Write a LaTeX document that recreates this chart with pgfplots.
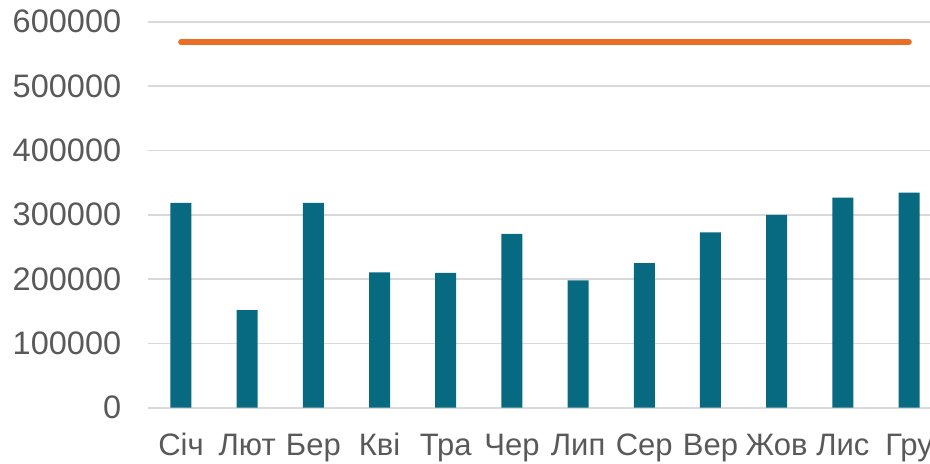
\documentclass[border=0pt]{standalone}
\usepackage{fontspec}
\setmainfont{Liberation Sans}
\usepackage{pgfplots}
\pgfplotsset{compat=1.18}
\definecolor{barteal}{RGB}{7,106,128}
\definecolor{lineorange}{RGB}{235,110,38}
\definecolor{gridgray}{RGB}{217,217,217}
\definecolor{labelgray}{RGB}{89,89,89}
\begin{document}
\begin{tikzpicture}
\useasboundingbox (-147.9bp,-56.3bp) rectangle (782.1bp,407.7bp);
\clip (-147.9bp,-56.3bp) rectangle (782.1bp,407.7bp);
\begin{axis}[
  at={(0,0)}, anchor=south west,
  scale only axis,
  width=794.2bp, height=386bp,
  xmin=-0.5, xmax=11.5,
  ymin=0, ymax=600000,
  ytick={0,100000,...,600000},
  xtick={0,...,11},
  xticklabels={Січ,Лют,Бер,Кві,Тра,Чер,Лип,Сер,Вер,Жов,Лис,Гру},
  ymajorgrids,
  grid style={draw=gridgray, line width=1.6bp},
  axis line style={draw=none},
  major tick length=0pt,
  scaled y ticks=false,
  /pgf/number format/assume math mode=true,
  yticklabel={\pgfmathprintnumber[fixed,precision=0,1000 sep={}]{\tick}},
  tick label style={font=\fontsize{31bp}{36bp}\selectfont, text=labelgray},
  yticklabel style={font=\fontsize{32.5bp}{38bp}\selectfont, anchor=east, inner sep=0pt, xshift=-26.5bp},
  xticklabel style={anchor=base, inner sep=0pt, yshift=-47.3bp},
  clip=false,
]
\addplot[ybar, bar width=21bp, fill=barteal, draw=none] coordinates {
  (0,318300) (1,151700) (2,318300) (3,210200) (4,209600) (5,270200)
  (6,197800) (7,224700) (8,272400) (9,299700) (10,326700) (11,334500)
};
\addplot[lineorange, line width=5.6bp, line cap=round, mark=none, sharp plot] coordinates {
  (0,568300) (11,568300)
};
\end{axis}
\end{tikzpicture}
\end{document}
